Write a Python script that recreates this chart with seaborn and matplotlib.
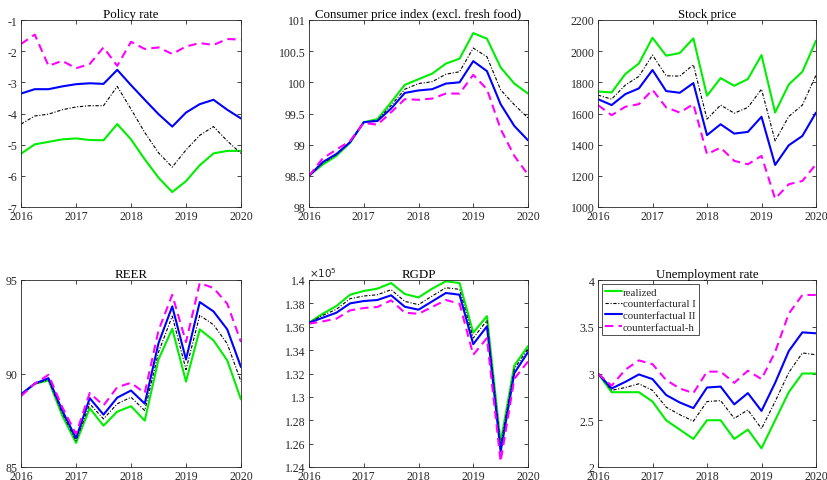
import numpy as np
import pandas as pd
import seaborn as sns
import matplotlib.pyplot as plt
import matplotlib.ticker as ticker

# quarterly dates 2016Q1 .. 2020Q1
quarters = np.linspace(2016, 2020, 17)
series_names = ['realized', 'counterfactural I', 'counterfactual II', 'counterfactual-h']

policy_realized = [-5.29, -4.99, -4.91, -4.83, -4.80, -4.85, -4.86, -4.34, -4.83, -5.47, -6.06, -6.52, -6.17, -5.66, -5.28, -5.20, -5.20]
policy_cf1 = [-4.34, -4.08, -4.02, -3.88, -3.79, -3.75, -3.75, -3.13, -3.86, -4.61, -5.26, -5.72, -5.17, -4.70, -4.42, -4.88, -5.28]
policy_cf2 = [-3.36, -3.22, -3.22, -3.13, -3.06, -3.03, -3.05, -2.60, -3.09, -3.56, -4.02, -4.42, -3.97, -3.70, -3.56, -3.88, -4.16]
policy_cfh = [-1.77, -1.47, -2.47, -2.31, -2.55, -2.41, -1.88, -2.47, -1.70, -1.93, -1.88, -2.09, -1.85, -1.74, -1.80, -1.61, -1.63]

cpi_realized = [98.50, 98.68, 98.82, 99.03, 99.36, 99.41, 99.68, 99.96, 100.05, 100.14, 100.30, 100.38, 100.79, 100.70, 100.24, 99.98, 99.82]
cpi_cf1 = [98.50, 98.70, 98.84, 99.04, 99.36, 99.39, 99.63, 99.89, 99.98, 100.01, 100.13, 100.17, 100.55, 100.41, 99.88, 99.64, 99.43]
cpi_cf2 = [98.50, 98.72, 98.85, 99.04, 99.36, 99.38, 99.58, 99.83, 99.87, 99.89, 99.98, 100.00, 100.34, 100.18, 99.65, 99.30, 99.07]
cpi_cfh = [98.50, 98.78, 98.92, 99.06, 99.35, 99.32, 99.52, 99.73, 99.72, 99.74, 99.82, 99.82, 100.12, 99.89, 99.25, 98.82, 98.52]

stock_realized = [1741, 1735, 1853, 1921, 2086, 1971, 1988, 2082, 1714, 1827, 1778, 1821, 1975, 1606, 1786, 1868, 2067]
stock_cf1 = [1718, 1692, 1782, 1838, 1975, 1842, 1840, 1913, 1564, 1654, 1602, 1639, 1756, 1424, 1581, 1654, 1846]
stock_cf2 = [1692, 1654, 1724, 1761, 1879, 1744, 1733, 1795, 1461, 1531, 1471, 1482, 1579, 1270, 1396, 1456, 1606]
stock_cfh = [1654, 1589, 1643, 1660, 1752, 1639, 1606, 1660, 1339, 1381, 1296, 1274, 1328, 1053, 1146, 1167, 1274]

reer_realized = [88.86, 89.45, 89.63, 87.75, 86.29, 88.14, 87.21, 87.96, 88.25, 87.48, 90.75, 92.39, 89.57, 92.36, 91.77, 90.70, 88.61]
reer_cf1 = [88.86, 89.45, 89.66, 87.89, 86.41, 88.38, 87.57, 88.38, 88.73, 88.02, 91.14, 93.07, 90.21, 93.11, 92.61, 91.59, 89.57]
reer_cf2 = [88.89, 89.46, 89.75, 88.02, 86.54, 88.68, 87.80, 88.71, 89.09, 88.39, 91.62, 93.59, 90.75, 93.82, 93.32, 92.36, 90.34]
reer_cfh = [88.79, 89.46, 89.93, 88.20, 86.77, 88.96, 88.29, 89.27, 89.50, 88.96, 92.30, 94.21, 91.68, 94.84, 94.57, 93.73, 91.68]

rgdp_realized = [136340, 137110, 137770, 138740, 139060, 139260, 139740, 138800, 138510, 139260, 139890, 139740, 135490, 136910, 126110, 132690, 134340]
rgdp_cf1 = [136340, 136970, 137490, 138400, 138630, 138740, 139170, 138170, 137890, 138630, 139340, 139200, 135030, 136540, 125770, 132400, 134110]
rgdp_cf2 = [136340, 136770, 137200, 138000, 138200, 138290, 138690, 137710, 137460, 138170, 138890, 138740, 134510, 136030, 125310, 132030, 133830]
rgdp_cfh = [136260, 136460, 136690, 137400, 137600, 137690, 138260, 137200, 137110, 137690, 138290, 137970, 133600, 135030, 124460, 131540, 133030]

unemp_realized = [3.0, 2.8, 2.8, 2.8, 2.7, 2.5, 2.4, 2.3, 2.5, 2.5, 2.3, 2.4, 2.2, 2.5, 2.8, 3.0, 3.0]
unemp_cf1 = [3.0, 2.82, 2.85, 2.89, 2.82, 2.64, 2.56, 2.49, 2.70, 2.71, 2.52, 2.61, 2.41, 2.70, 3.01, 3.22, 3.20]
unemp_cf2 = [3.0, 2.84, 2.91, 2.99, 2.94, 2.77, 2.69, 2.63, 2.85, 2.86, 2.67, 2.79, 2.60, 2.90, 3.24, 3.44, 3.43]
unemp_cfh = [3.0, 2.87, 3.04, 3.14, 3.10, 2.93, 2.84, 2.79, 3.02, 3.02, 2.90, 3.03, 2.94, 3.23, 3.64, 3.84, 3.84]

panels = [
    ('Policy rate', [policy_realized, policy_cf1, policy_cf2, policy_cfh], (-7, -1), np.arange(-7, -0.5, 1)),
    ('Consumer price index (excl. fresh food)', [cpi_realized, cpi_cf1, cpi_cf2, cpi_cfh], (98, 101), np.arange(98, 101.01, 0.5)),
    ('Stock price', [stock_realized, stock_cf1, stock_cf2, stock_cfh], (1000, 2200), np.arange(1000, 2201, 200)),
    ('REER', [reer_realized, reer_cf1, reer_cf2, reer_cfh], (85, 95), [85, 90, 95]),
    ('RGDP', [rgdp_realized, rgdp_cf1, rgdp_cf2, rgdp_cfh], (124000, 140000), np.arange(124000, 140001, 2000)),
    ('Unemployment rate', [unemp_realized, unemp_cf1, unemp_cf2, unemp_cfh], (2, 4), np.arange(2, 4.01, 0.5)),
]

styles = [
    dict(color='#00ee00', linestyle='-', lw=1.5),
    dict(color='black', linestyle=(0, (3, 1.5, 1, 1.5)), lw=0.8),
    dict(color='#0000ff', linestyle='-', lw=1.5),
    dict(color='#ff00ff', linestyle=(0, (4, 2.5)), lw=1.5),
]

sns.set_style('ticks')
plt.rcParams['font.family'] = ['Liberation Serif', 'DejaVu Serif']
plt.rcParams['axes.unicode_minus'] = False

fig = plt.figure(figsize=(8.28, 4.81), dpi=100)
lefts = [21, 309, 598]
rights = [241, 528, 816]
tops = [21, 281]
H = 187
W, Hf = 828, 481
axc = '#262626'

for i, (title, data, ylim, yticks) in enumerate(panels):
    r, c = divmod(i, 3)
    ax = fig.add_axes([lefts[c] / W, 1 - (tops[r] + H) / Hf, (rights[c] - lefts[c]) / W, H / Hf])
    for name, vals, st in zip(series_names, data, styles):
        sns.lineplot(x=quarters, y=vals, ax=ax, label=name, **st)
    ax.set_xlim(2016, 2020)
    ax.set_ylim(*ylim)
    ax.set_xticks([2016, 2017, 2018, 2019, 2020])
    ax.set_yticks(yticks)
    if title == 'RGDP':
        ax.yaxis.set_major_formatter(ticker.FuncFormatter(lambda v, p: f'{v / 1e5:g}'))
        ax.text(0.0, 1.005, r'$\times10^5$', transform=ax.transAxes, fontsize=7.5,
                color=axc, ha='left', va='bottom')
    else:
        ax.yaxis.set_major_formatter(ticker.FuncFormatter(lambda v, p: f'{v:g}'))
    ax.tick_params(direction='in', top=True, right=True, length=3, width=0.6,
                   labelsize=8.5, colors=axc, pad=2.5)
    for s in ax.spines.values():
        s.set_linewidth(0.6)
        s.set_color(axc)
    ax.set_title(title, fontsize=9.3, pad=2.5, color='black')
    ax.set_xlabel('')
    ax.set_ylabel('')
    if title == 'Unemployment rate':
        leg = ax.legend(loc='upper left', fontsize=7.8, frameon=True, fancybox=False,
                        handlelength=1.6, handletextpad=0.05, borderpad=0.3,
                        labelspacing=0.2, borderaxespad=0.35)
        leg.get_frame().set_edgecolor('black')
        leg.get_frame().set_linewidth(0.6)
    else:
        ax.get_legend().remove()

fig.savefig('out.png', dpi=100)
